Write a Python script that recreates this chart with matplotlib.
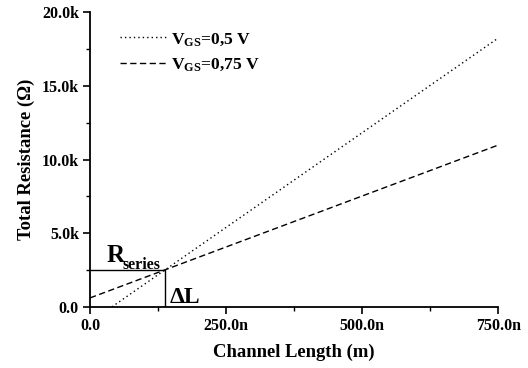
import numpy as np
import matplotlib.pyplot as plt
from matplotlib.ticker import FuncFormatter, MultipleLocator

plt.rcParams['font.family'] = 'Liberation Serif'
plt.rcParams['font.weight'] = 'bold'
plt.rcParams['mathtext.fontset'] = 'custom'
plt.rcParams['mathtext.rm'] = 'Liberation Serif:bold'
plt.rcParams['mathtext.bf'] = 'Liberation Serif:bold'
plt.rcParams['mathtext.it'] = 'Liberation Serif:bold'

# data (channel length in m, resistance in ohm)
length = [0.0, 750e-9]
r_vgs_05 = [-1030.0, 18240.0]
r_vgs_075 = [610.0, 10980.0]
labels = [r'$\mathrm{V_{GS}}$=0,5 V', r'$\mathrm{V_{GS}}$=0,75 V']

# intersection -> series resistance and delta L
slope_a = (r_vgs_05[1] - r_vgs_05[0]) / (length[1] - length[0])
slope_b = (r_vgs_075[1] - r_vgs_075[0]) / (length[1] - length[0])
delta_l = (r_vgs_075[0] - r_vgs_05[0]) / (slope_a - slope_b)
r_series = r_vgs_075[0] + slope_b * delta_l

fig = plt.figure(figsize=(5.28, 3.68), dpi=100)
ax = fig.add_axes([0.1705, 0.166, 0.773, 0.801])

ax.plot(length, r_vgs_05, color='black', lw=1.0, ls=(0, (1, 2.2)), label=labels[0])
ax.plot(length, r_vgs_075, color='black', lw=1.0, ls=(0, (4.5, 2.5)), label=labels[1])
ax.plot([0, delta_l, delta_l], [r_series, r_series, 0], color='black', lw=1.0)

ax.text(31e-9, 3050, 'R', fontsize=18, ha='left', va='baseline')
ax.text(60e-9, 2580, 'series', fontsize=11.5, ha='left', va='baseline')
ax.text(147e-9, 270, 'ΔL', fontsize=17, ha='left', va='baseline')

ax.set_xlim(0, 750e-9)
ax.set_ylim(0, 20000)
ax.xaxis.set_major_locator(MultipleLocator(250e-9))
ax.xaxis.set_minor_locator(MultipleLocator(125e-9))
ax.yaxis.set_major_locator(MultipleLocator(5000))
ax.yaxis.set_minor_locator(MultipleLocator(2500))
ax.xaxis.set_major_formatter(FuncFormatter(lambda v, p: '0.0' if abs(v) < 1e-12 else f'{v*1e9:.1f}n'))
ax.yaxis.set_major_formatter(FuncFormatter(lambda v, p: '0.0' if v == 0 else f'{v/1000:.1f}k'))

for s in ['top', 'right']:
    ax.spines[s].set_visible(False)
for s in ['left', 'bottom']:
    ax.spines[s].set_linewidth(1.3)
ax.tick_params(which='major', direction='out', length=5, width=1.2, labelsize=11.5, pad=3)
ax.tick_params(which='minor', direction='out', length=3, width=1.0)

ax.set_xlabel('Channel Length (m)', fontsize=13.4, fontweight='bold', labelpad=7)
ax.set_ylabel('Total Resistance (Ω)', fontsize=13.4, fontweight='bold', labelpad=5)

ax.legend(loc='upper left', bbox_to_anchor=(0.036, 0.99), frameon=False, fontsize=12.6,
          handlelength=2.7, handletextpad=0.2, labelspacing=0.5)

fig.savefig('out.png', dpi=100)
